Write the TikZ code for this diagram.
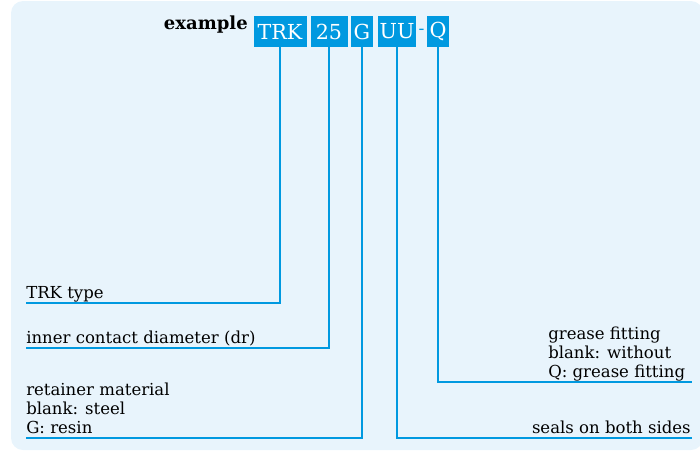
\documentclass[tikz,border=0pt]{standalone}
\usepackage{fontspec}
\setmainfont{DejaVu Serif}
\usetikzlibrary{positioning}
\definecolor{TrkBlue}{RGB}{0,153,224}
\definecolor{TrkPale}{RGB}{232,244,252}
\tikzset{
  trk/code/.style={
    fill=TrkBlue,
    text=white,
    inner sep=0pt,
    minimum height=23.25pt,
    font=\fontsize{15.5}{15.5}\selectfont
  },
  trk/label/.style={
    inner sep=0pt,
    text=black,
    align=left,
    font=\fontsize{12.4}{14.25}\selectfont
  },
  trk/lead/.style={draw=TrkBlue, line width=1.1pt},
  trk/title/.style={inner sep=0pt, font=\bfseries\fontsize{13.5}{14}\selectfont}
}
\begin{document}
\begin{tikzpicture}[x=0.75pt,y=-0.75pt]
  \useasboundingbox (0,0) rectangle (700,451);
  \fill[TrkPale, rounded corners=9pt] (11,1) rectangle (703,450);
  % code boxes
  \node[trk/code,minimum width=39.75pt] (trk) at (280,31.5) {TRK};
  \node[trk/code,minimum width=27.75pt] (size) at (329,31.5) {25};
  \node[trk/code,minimum width=16.5pt] (ret) at (362,31.5) {G};
  \node[trk/code,minimum width=28.5pt] (seal) at (397,31.5) {UU};
  \node[inner sep=0pt,text=TrkBlue,font=\fontsize{13}{13}\selectfont] (dash) at (421.5,31.5) {-};
  \node[trk/code,minimum width=16.5pt] (grease) at (438,31.5) {Q};
  \node[trk/title,anchor=base east] (example) at (248,29) {example};
  % labels
  \node[trk/label,anchor=base west] (typelbl) at (26,298) {TRK type};
  \node[trk/label,anchor=base west] (sizelbl) at (26,343) {inner contact diameter (dr)};
  \node[trk/label,anchor=south west,text depth=0pt] (retlbl) at (26,434)
    {retainer material\\blank: steel\\G: resin};
  \node[trk/label,anchor=south west,text depth=0pt] (greaselbl) at (548,378)
    {grease fitting\\blank: without\\Q: grease fitting};
  \node[trk/label,anchor=base east] (seallbl) at (691,433) {seals on both sides};
  % leader ends
  \coordinate (typeend) at (26,303);
  \coordinate (sizeend) at (26,348);
  \coordinate (retend) at (26,438);
  \coordinate (greaseend) at (692,382);
  \coordinate (sealend) at (692,438);
  \draw[trk/lead] (trk.south) |- (typeend);
  \draw[trk/lead] (size.south) |- (sizeend);
  \draw[trk/lead] (ret.south) |- (retend);
  \draw[trk/lead] (seal.south) |- (sealend);
  \draw[trk/lead] (grease.south) |- (greaseend);
\end{tikzpicture}
\end{document}
